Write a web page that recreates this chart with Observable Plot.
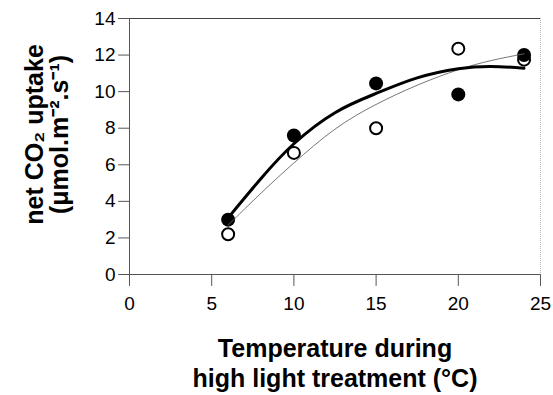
<!DOCTYPE html>
<html>
<head>
<meta charset="utf-8">
<script src="https://cdn.jsdelivr.net/npm/d3@7"></script>
<script src="https://cdn.jsdelivr.net/npm/@observablehq/plot@0.6"></script>
<style>
  html, body { margin: 0; padding: 0; background: #fff; }
</style>
</head>
<body>
<div id="chart"></div>
<script>
// Data
const temps = [6, 10, 15, 20, 24];
const filledUptake = [3.0, 7.6, 10.45, 9.85, 12.0];
const openUptake = [2.2, 6.65, 8.0, 12.35, 11.75];

// Fitted curves
const curveX = [6, 8, 10, 12.5, 15, 17.5, 20, 22, 24];
const thickFit = [3.1, 5.25, 7.15, 8.85, 9.9, 10.75, 11.25, 11.38, 11.28];
const thinFit = [2.7, 4.45, 6.1, 7.95, 9.3, 10.35, 11.2, 11.7, 12.07];

const xTicks = [0, 5, 10, 15, 20, 25];
const yTicks = [0, 2, 4, 6, 8, 10, 12, 14];

const xLabel = "Temperature during\nhigh light treatment (°C)";
const yLabel = "net CO₂ uptake\n(μmol.m⁻².s⁻¹)";

const filled = temps.map((t, i) => ({t, v: filledUptake[i]}));
const open = temps.map((t, i) => ({t, v: openUptake[i]}));
const thick = curveX.map((t, i) => ({t, v: thickFit[i]}));
const thin = curveX.map((t, i) => ({t, v: thinFit[i]}));

const axisColor = "#555";
// a straight tick centred on its anchor point
const tickShape = {draw(context, l) { context.moveTo(0, l / 2); context.lineTo(0, -l / 2); }};

const chart = Plot.plot({
  width: 553,
  height: 395,
  marginLeft: 129,
  marginRight: 13,
  marginTop: 18,
  marginBottom: 121,
  style: {fontFamily: "'Liberation Sans', Arial, sans-serif", background: "#fff", color: "#000"},
  x: {domain: [0, 25], ticks: xTicks, label: null},
  y: {domain: [0, 14], ticks: yTicks, label: null},
  marks: [
    // frame
    Plot.ruleY([14], {stroke: "#444", strokeWidth: 1}),
    Plot.ruleX([25], {stroke: "#bbb", strokeWidth: 1, strokeDasharray: "1,1"}),
    Plot.ruleX([0], {stroke: axisColor, strokeWidth: 1}),
    Plot.ruleY([0], {stroke: axisColor, strokeWidth: 1}),
    // crossing ticks
    Plot.vector(xTicks, {x: d => d, y: 0, length: 11, rotate: 0, shape: tickShape, stroke: axisColor, strokeWidth: 1}),
    Plot.vector(yTicks, {x: 0, y: d => d, length: 11, rotate: 90, shape: tickShape, stroke: axisColor, strokeWidth: 1}),
    // tick labels
    Plot.axisX({ticks: xTicks, tickSize: 0, tickPadding: 22, fontSize: 19, fill: "#000", label: null}),
    Plot.axisY({ticks: yTicks, tickSize: 0, tickPadding: 14, fontSize: 19, fill: "#000", label: null}),
    // points
    Plot.dot(open, {x: "t", y: "v", r: 6, fill: "#fff", stroke: "#000", strokeWidth: 2}),
    Plot.dot(filled, {x: "t", y: "v", r: 7, fill: "#000", stroke: "none"}),
    // curves
    Plot.line(thin, {x: "t", y: "v", curve: "natural", stroke: "#666", strokeWidth: 0.9}),
    Plot.line(thick, {x: "t", y: "v", curve: "natural", stroke: "#000", strokeWidth: 3}),
    // axis labels
    Plot.text([xLabel], {text: d => d, frameAnchor: "bottom", dy: 61, lineAnchor: "top", lineHeight: 1.2, fontSize: 25, fontWeight: "bold", fill: "#000"}),
    Plot.text([yLabel], {text: d => d, frameAnchor: "left", textAnchor: "middle", dx: -82.5, dy: -12, rotate: -90, lineAnchor: "middle", lineHeight: 1.0, fontSize: 25, fontWeight: "bold", fill: "#000"})
  ]
});
document.getElementById("chart").appendChild(chart);
</script>
</body>
</html>
